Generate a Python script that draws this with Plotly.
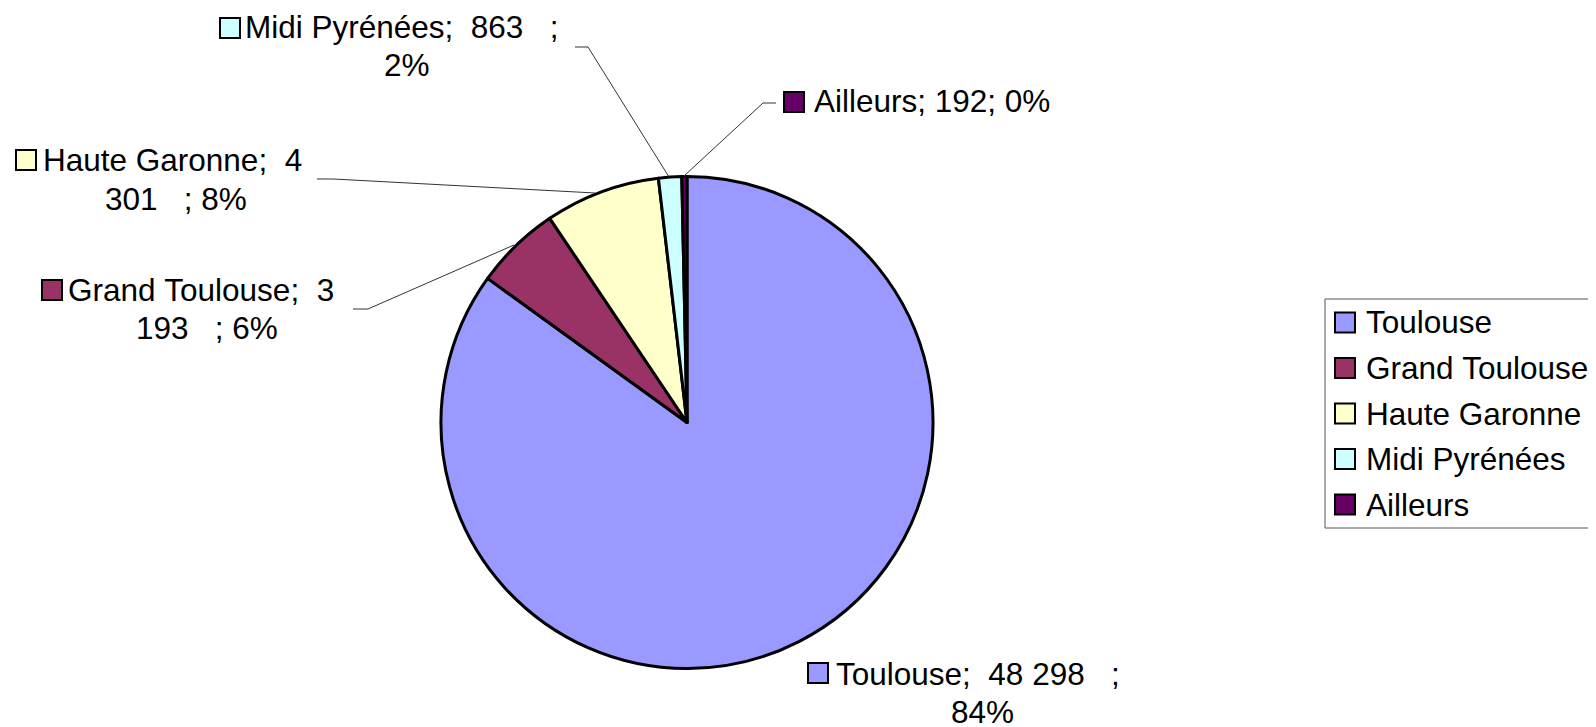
import plotly.graph_objects as go

# ---- data ----
names = ["Toulouse", "Grand Toulouse", "Haute Garonne", "Midi Pyrénées", "Ailleurs"]
values = [48298, 3193, 4301, 863, 192]
percents = [84, 6, 8, 2, 0]
colors = ["#9999FF", "#993366", "#FFFFCC", "#CCFFFF", "#660066"]

# data-label text as printed in the reference (line 1, line 2)
label_line1 = ["Toulouse;  48 298   ;", "Grand Toulouse;  3", "Haute Garonne;  4",
               "Midi Pyrénées;  863   ;", "Ailleurs; 192; 0%"]
label_line2 = ["84%", "193   ; 6%", "301   ; 8%", "2%", ""]

# page is 1596x727; the html body has an 8px margin, so the figure is
# sized to the remaining area and page pixels are shifted by 8.
OFF = 8
W, H = 1596 - OFF, 727 - OFF
FONT = "Liberation Sans, Arial, sans-serif"
FS = 31.5


def px(x):
    return (x - OFF) / W


def py(y):
    return 1 - (y - OFF) / H


def nb(s):
    return s.replace(" ", "\u00a0")


# pie geometry (page pixels)
cx, cy, r = 687, 422.5, 246

fig = go.Figure(go.Pie(
    labels=names, values=values, sort=False, direction="clockwise", rotation=0,
    marker=dict(colors=colors, line=dict(color="black", width=3)),
    textinfo="none", hoverinfo="label+value+percent",
    domain=dict(x=[px(cx - r), px(cx + r)], y=[py(cy + r), py(cy - r)]),
))

# label layout (page pixels): line1 left x & centre y, line2 centre x & y, key square
label_pos = {
    "Toulouse": dict(x1=834, y1=674, x2=982.5, y2=711.5, sq=(808, 663)),
    "Grand Toulouse": dict(x1=65.5, y1=290, x2=207, y2=328, sq=(42, 280)),
    "Haute Garonne": dict(x1=41, y1=160.5, x2=176, y2=199.5, sq=(16, 150)),
    "Midi Pyrénées": dict(x1=242.5, y1=26.7, x2=406.5, y2=65, sq=(220, 18)),
    "Ailleurs": dict(x1=812, y1=101.5, sq=(784, 92)),
}

# leader lines (page pixel polylines)
leaders = {
    "Midi Pyrénées": [(575, 47), (588, 47), (669, 177)],
    "Ailleurs": [(776, 103), (763, 103), (684, 176)],
    "Haute Garonne": [(317, 179), (333, 179), (595, 193)],
    "Grand Toulouse": [(353, 309), (368, 309), (514, 245)],
}

shapes = []
annotations = []
for i, n in enumerate(names):
    p = label_pos[n]
    annotations.append(dict(
        x=px(p["x1"]), y=py(p["y1"]), xref="paper", yref="paper",
        xanchor="left", yanchor="middle", text=nb(label_line1[i]), showarrow=False,
        font=dict(family=FONT, size=FS, color="black"),
    ))
    if label_line2[i]:
        annotations.append(dict(
            x=px(p["x2"]), y=py(p["y2"]), xref="paper", yref="paper",
            xanchor="center", yanchor="middle", text=nb(label_line2[i]), showarrow=False,
            font=dict(family=FONT, size=FS, color="black"),
        ))
    sx, sy = p["sq"]
    shapes.append(dict(type="rect", xref="paper", yref="paper",
                       x0=px(sx), x1=px(sx + 20), y0=py(sy + 20), y1=py(sy),
                       fillcolor=colors[i], line=dict(color="black", width=2)))
    if n in leaders:
        pts = leaders[n]
        path = "M " + " L ".join(f"{px(x):.5f},{py(y):.5f}" for x, y in pts)
        shapes.append(dict(type="path", xref="paper", yref="paper", path=path,
                           line=dict(color="#333333", width=1)))

# manual legend (box + keys + labels), page pixels
leg_x0, leg_y0, leg_y1 = 1325, 299, 528
shapes.append(dict(type="rect", xref="paper", yref="paper",
                   x0=px(leg_x0), x1=px(1610), y0=py(leg_y1), y1=py(leg_y0),
                   line=dict(color="#555555", width=1), fillcolor="rgba(0,0,0,0)"))
leg_y = [322.5, 368, 413.5, 459, 504.5]
for i, n in enumerate(names):
    yc = leg_y[i]
    shapes.append(dict(type="rect", xref="paper", yref="paper",
                       x0=px(1335), x1=px(1355), y0=py(yc + 10), y1=py(yc - 10),
                       fillcolor=colors[i], line=dict(color="black", width=2)))
    annotations.append(dict(
        x=px(1364), y=py(yc), xref="paper", yref="paper",
        xanchor="left", yanchor="middle", text=nb(n), showarrow=False,
        font=dict(family=FONT, size=FS, color="black"),
    ))

fig.update_layout(
    width=W, height=H,
    margin=dict(l=0, r=0, t=0, b=0),
    paper_bgcolor="white", plot_bgcolor="white",
    showlegend=False,
    shapes=shapes, annotations=annotations,
    font=dict(family=FONT, size=FS, color="black"),
)

fig.write_html("out.html")
